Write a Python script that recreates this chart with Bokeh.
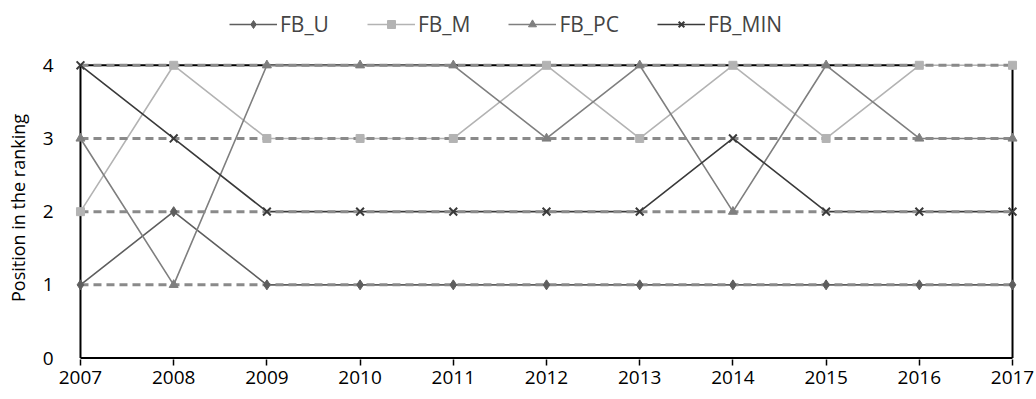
from bokeh.plotting import figure
from bokeh.layouts import column
from bokeh.models import Range1d, FixedTicker, Legend, LegendItem
from bokeh.embed import file_html
from bokeh.resources import INLINE

years = [2007, 2008, 2009, 2010, 2011, 2012, 2013, 2014, 2015, 2016, 2017]
fb_u = [1, 2, 1, 1, 1, 1, 1, 1, 1, 1, 1]
fb_m = [2, 4, 3, 3, 3, 4, 3, 4, 3, 4, 4]
fb_pc = [3, 1, 4, 4, 4, 3, 4, 2, 4, 3, 3]
fb_min = [4, 3, 2, 2, 2, 2, 2, 3, 2, 2, 2]
grid_levels = [1, 2, 3, 4]
y_ticks = [0, 1, 2, 3, 4]

FONT = "Open Sans"
LEG_H = 50

p = figure(width=1036, height=399 - LEG_H, output_backend="svg", toolbar_location=None,
           x_range=Range1d(2006.85, 2017.15), y_range=Range1d(-0.02, 4.12),
           min_border_left=66, min_border_right=10, min_border_top=56 - LEG_H,
           min_border_bottom=40)
p.outline_line_color = None
p.xgrid.visible = False
p.ygrid.visible = False
p.background_fill_color = "white"
p.border_fill_color = "white"

# axes
p.xaxis.ticker = FixedTicker(ticks=years)
p.xaxis.axis_line_color = None
p.xaxis.major_tick_line_color = "black"
p.xaxis.major_tick_line_width = 1.5
p.xaxis.major_tick_in = 0
p.xaxis.major_tick_out = 6
p.xaxis.minor_tick_line_color = None
p.xaxis.major_label_text_font = FONT
p.xaxis.major_label_text_font_size = "19px"
p.xaxis.major_label_text_color = "black"
p.xaxis.major_label_standoff = 5

p.yaxis.ticker = FixedTicker(ticks=y_ticks)
p.yaxis.axis_line_color = None
p.yaxis.major_tick_line_color = None
p.yaxis.minor_tick_line_color = None
p.yaxis.major_label_text_font = FONT
p.yaxis.major_label_text_font_size = "19px"
p.yaxis.major_label_text_color = "black"
p.yaxis.major_label_standoff = 7
p.yaxis.axis_label = "Position in the ranking"
p.yaxis.axis_label_text_font = FONT
p.yaxis.axis_label_text_font_size = "18px"
p.yaxis.axis_label_text_font_style = "normal"
p.yaxis.axis_label_text_color = "black"
p.yaxis.axis_label_standoff = 10

# frame lines (axis box)
p.line([years[0], years[0]], [0, 4], line_color="black", line_width=2)
p.line([years[-1], years[-1]], [0, 4], line_color="black", line_width=2)
p.line([years[0], years[-1]], [0, 0], line_color="black", line_width=2)
p.line([years[0], years[-2]], [4, 4], line_color="black", line_width=2)

series = [
    ("FB_U", fb_u, "#5e5e5e", "diamond", 10),
    ("FB_M", fb_m, "#b3b3b3", "square", 8),
    ("FB_PC", fb_pc, "#7f7f7f", "triangle", 9),
    ("FB_MIN", fb_min, "#3a3a3a", "x", 11),
]
for name, vals, col, mk, sz in series:
    p.line(years, vals, line_color=col, line_width=1.6)

# dashed gridlines
for lv in grid_levels:
    p.line([years[0], years[-1]], [lv, lv], line_color="#8a8a8a", line_width=3, line_dash="8 5")

for name, vals, col, mk, sz in series:
    if mk == "x":
        p.scatter(years, vals, marker="x", size=sz, line_color=col, line_width=2)
    else:
        p.scatter(years, vals, marker=mk, size=sz, fill_color=col, line_color=col)

# legend strip on top (its renderers sit outside the visible range)
lf = figure(width=1036, height=LEG_H, output_backend="svg", toolbar_location=None,
            x_range=Range1d(0, 1), y_range=Range1d(0, 1),
            min_border=0, min_border_left=0, min_border_right=0,
            min_border_top=0, min_border_bottom=0)
lf.outline_line_color = None
lf.axis.visible = False
lf.grid.visible = False
items = []
for name, vals, col, mk, sz in series:
    lr = lf.line([5, 6], [5, 6], line_color=col, line_width=1.6)
    if mk == "x":
        sr = lf.scatter([5], [5], marker="x", size=sz - 2, line_color=col, line_width=2)
    else:
        sr = lf.scatter([5], [5], marker=mk, size=sz, fill_color=col, line_color=col)
    items.append(LegendItem(label=name, renderers=[lr, sr]))

legend = Legend(items=items, orientation="horizontal", location=(163, 12),
                label_text_font=FONT, label_text_font_size="21px",
                glyph_width=48, spacing=38, background_fill_alpha=0,
                border_line_color=None, label_standoff=3, margin=0, padding=0)
lf.add_layout(legend, "center")

layout = column(lf, p, spacing=0)
open("out.html", "w").write(file_html(layout, INLINE))
